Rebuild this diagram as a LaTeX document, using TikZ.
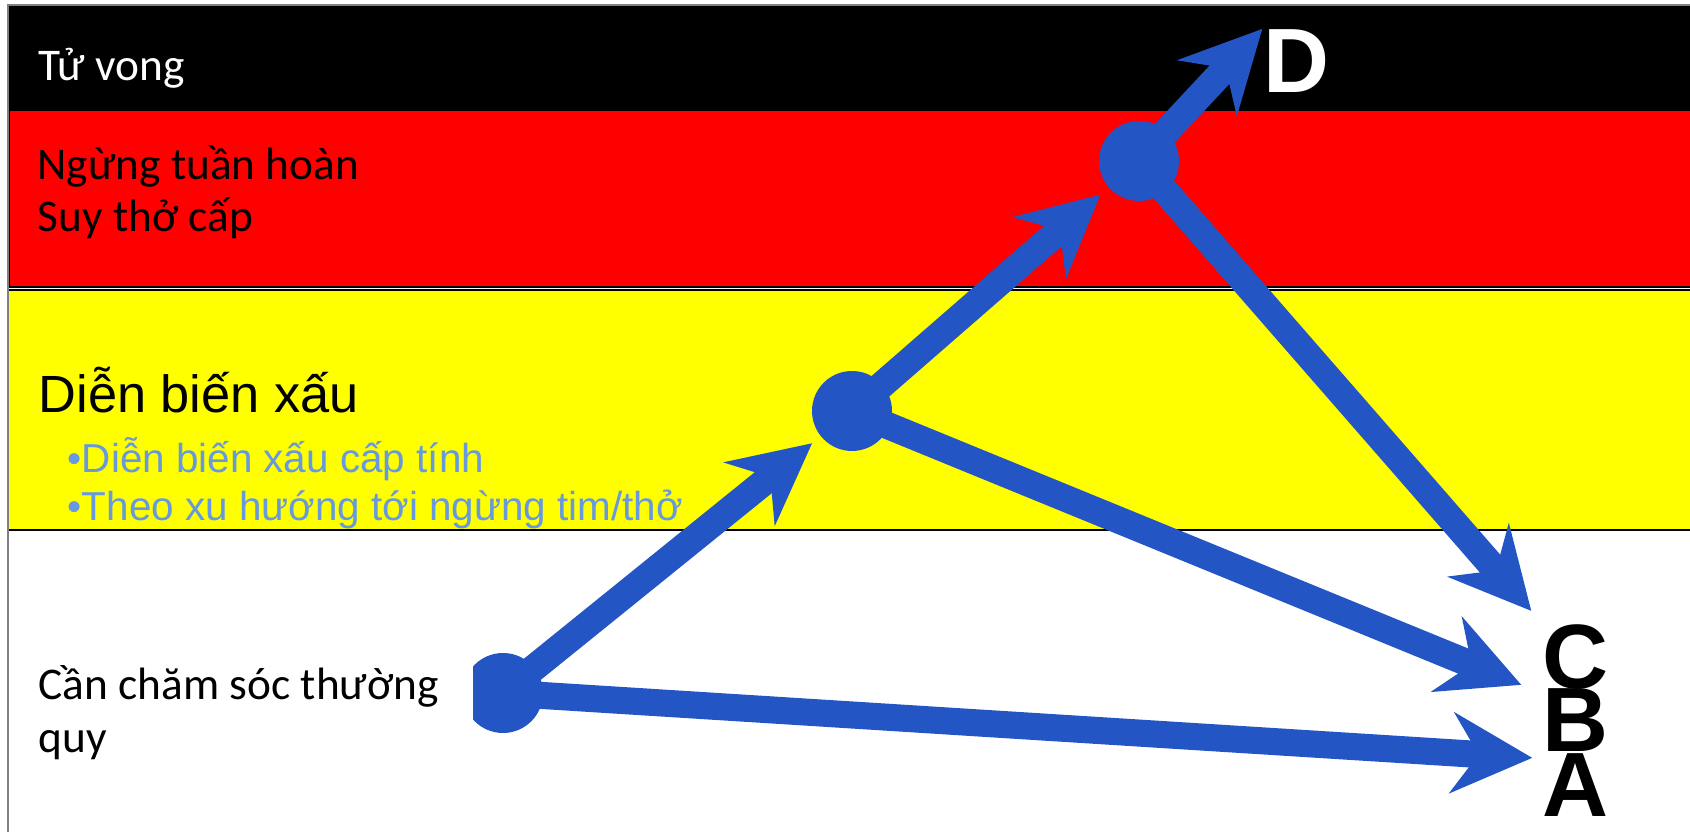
\documentclass[tikz,border=0pt]{standalone}
\usepackage{fontspec}
\setmainfont{Carlito}
\newfontfamily\arialfont{Liberation Sans}
\usetikzlibrary{arrows.meta}
\definecolor{pathblue}{RGB}{35,85,196}
\definecolor{bulletblue}{RGB}{102,153,221}
\definecolor{bandred}{RGB}{255,0,0}
\definecolor{bandyellow}{RGB}{255,255,0}

\begin{document}
\begin{tikzpicture}[
    band/.style={draw=black, line width=0.4pt},
    lvl/.style={anchor=base west, inner sep=0pt, font=\fontsize{12.9}{14.8}\selectfont},
    sub/.style={anchor=base west, inner sep=0pt, text=bulletblue, font=\arialfont\fontsize{11.5}{13.7}\selectfont},
    dot/.style={circle, fill=pathblue, minimum size=0.8cm, inner sep=0pt, outer sep=3.2pt},
    grade/.style={inner sep=0pt, font=\arialfont\bfseries\fontsize{26}{26}\selectfont},
    move/.style={draw=pathblue, line width=7.7pt, -{Stealth[length=22.8pt, width=22.8pt, inset=7.5pt]}}
  ]
  \useasboundingbox (0,0) rectangle (16.9,8.32);
  % bands
  \fill[black] (0.09,8.27) rectangle (16.9,7.22);
  \draw[band, fill=bandred] (0.09,7.22) rectangle (16.95,5.45);
  \draw[band, fill=bandyellow] (0.08,5.42) rectangle (16.95,3.02);
  \draw[gray] (0.08,0) -- (0.08,8.27) -- (16.9,8.27);

  \node[lvl, text=white] (dead) at (0.38,7.51) {Tử vong};
  \node[lvl] (arrest) at (0.37,6.52) {Ngừng tuần hoàn};
  \node[lvl] (resp) at (0.37,6.00) {Suy thở cấp};
  \node[lvl, font=\arialfont\fontsize{14.9}{17}\selectfont] (worse) at (0.38,4.19) {Diễn biến xấu};
  \node[sub] (acute) at (0.67,3.59) {•Diễn biến xấu cấp tính};
  \node[sub] (trend) at (0.67,3.11) {•Theo xu hướng tới ngừng tim/thở};

  % dots and grades
  \node[dot] (c1) at (5.03,1.39) {};
  \node[dot] (c2) at (8.52,4.21) {};
  \node[dot] (c3) at (11.39,6.71) {};
  \node[grade, text=white] (D) at (12.96,7.71) {D};
  \node[grade] (C) at (15.75,1.75) {C};
  \node[grade] (B) at (15.75,1.12) {B};
  \node[grade] (A) at (15.75,0.47) {A};

  \draw[move] (c1.center) -- (c2);
  \draw[move] (c2.center) -- (c3);
  \draw[move] (c3.center) -- (D.north west);
  \draw[move] (c3.center) -- ([shift={(-0.1,0.13)}]C.north west);
  \draw[move] (c2.center) -- ([shift={(-0.2,0.03)}]B.north west);
  \draw[move] (c1.center) -- ([shift={(-0.09,-0.05)}]A.north west);

  % text box lying over the first dot
  \fill[white] (0.15,0.5) rectangle (4.73,2.1);
  \node[lvl] (routine) at (0.38,1.32) {Cần chăm sóc thường};
  \node[lvl] (routine2) at (0.38,0.79) {quy};
\end{tikzpicture}
\end{document}
